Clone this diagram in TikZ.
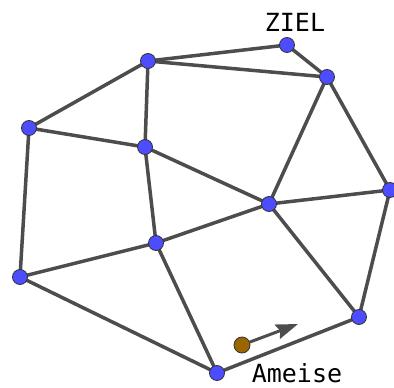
\documentclass[tikz,border=0pt]{standalone}
\usepackage{fontspec}
\newfontfamily\labelfont{DejaVu Sans Mono}
\usetikzlibrary{arrows.meta,backgrounds}
\definecolor{vblue}{RGB}{77,77,255}
\definecolor{edgegray}{RGB}{77,77,77}
\definecolor{antbrown}{RGB}{153,102,0}
\begin{document}
\begin{tikzpicture}[x=1pt,y=-1pt,
  vertex/.style={circle,fill=vblue,draw=black!80,line width=0.8pt,minimum size=15pt,inner sep=0pt},
  antnode/.style={circle,fill=antbrown,draw=black!80,line width=0.8pt,minimum size=16pt,inner sep=0pt},
  edge/.style={draw=edgegray,line width=3.5pt},
  lbl/.style={font=\labelfont\fontsize{25}{29}\selectfont,inner sep=0pt}]
\useasboundingbox (0,0) rectangle (394,388);
\node[vertex] (A) at (148,61) {};
\node[vertex] (B) at (287,45) {};
\node[vertex] (C) at (327,77) {};
\node[vertex] (D) at (29,128) {};
\node[vertex] (E) at (145,147) {};
\node[vertex] (F) at (390,190) {};
\node[vertex] (G) at (269,204) {};
\node[vertex] (H) at (156,243) {};
\node[vertex] (I) at (20,277) {};
\node[vertex] (J) at (359,317) {};
\node[vertex] (K) at (217,373) {};
\node[antnode] (ant) at (242,345) {};
\coordinate (tip) at (298,324);
\node[lbl] (ziel) at (295,22) {ZIEL};
\node[lbl,anchor=base] (ameise) at (297,382) {Ameise};
\begin{scope}[on background layer]
\foreach \u/\v in {A/B,A/C,B/C,A/D,A/E,D/E,D/I,E/G,E/H,C/G,C/F,F/G,F/J,G/H,G/J,H/I,H/K,I/K,K/J}{
  \draw[edge] (\u.center) -- (\v.center);
}
\end{scope}
\draw[draw=edgegray,line width=3pt,-{Stealth[length=22pt,width=15pt,inset=3pt]}] (ant) -- (tip);
\end{tikzpicture}
\end{document}
